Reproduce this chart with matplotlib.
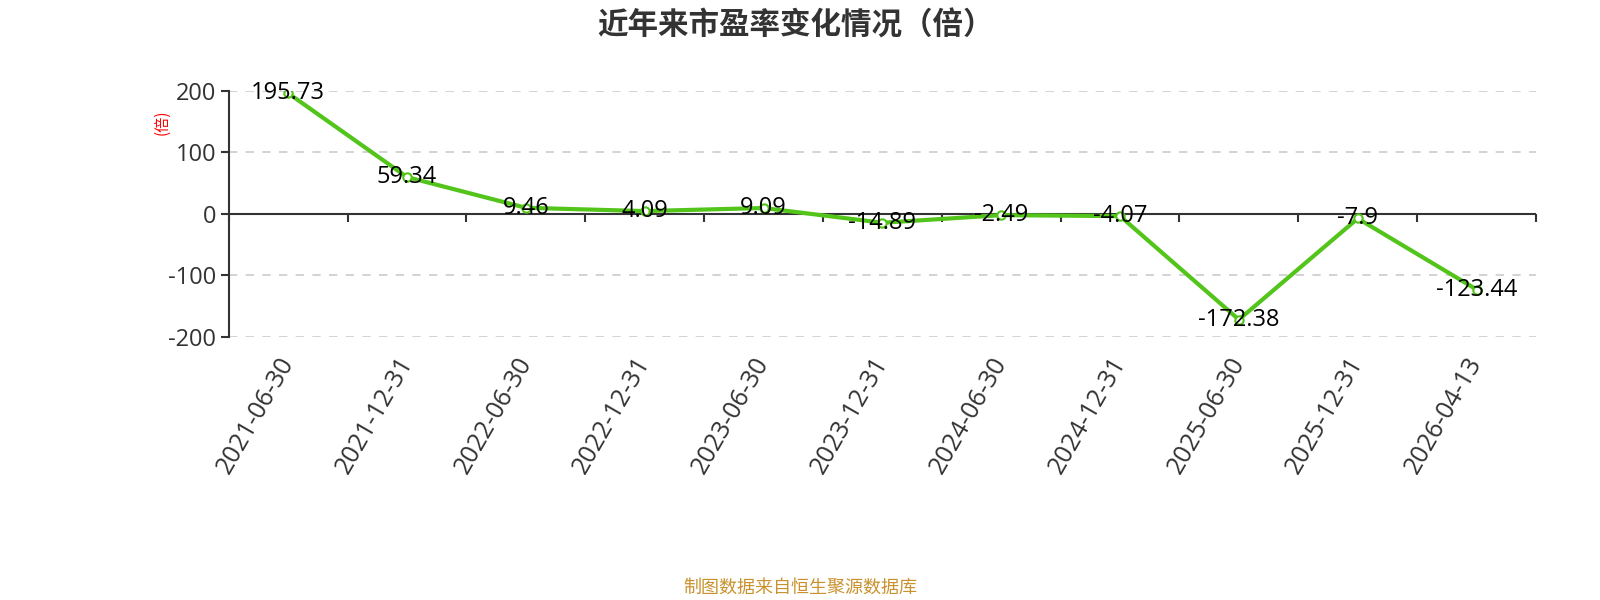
import matplotlib
matplotlib.use("Agg")
import matplotlib.pyplot as plt
import numpy as np

plt.rcParams['font.family'] = ['Open Sans', 'Noto Sans CJK SC', 'DejaVu Sans']
plt.rcParams['axes.unicode_minus'] = False

# 数据
dates = ["2021-06-30", "2021-12-31", "2022-06-30", "2022-12-31", "2023-06-30",
         "2023-12-31", "2024-06-30", "2024-12-31", "2025-06-30", "2025-12-31",
         "2026-04-13"]
pe = [195.73, 59.34, 9.46, 4.09, 9.09, -14.89, -2.49, -4.07, -172.38, -7.9, -123.44]
yticks = [-200, -100, 0, 100, 200]

cjk = ['Noto Sans CJK SC', 'DejaVu Sans']

fig = plt.figure(figsize=(16, 6), dpi=100)
ax = fig.add_axes([0.143, 0.439, 0.817, 0.410])

x = np.arange(len(dates))
ax.set_xlim(-0.5, len(dates) - 0.5)
ax.set_ylim(-200, 200)

# 网格线
for v in yticks:
    if v != 0:
        ax.axhline(v, color='#cccccc', lw=1.2, ls=(0, (5, 5)), zorder=1)
# 零线
ax.axhline(0, color='#333333', lw=1.5, zorder=2)

ax.plot(x, pe, color='#52c41a', lw=3, marker='o', markersize=6,
        markerfacecolor='white', markeredgecolor='#52c41a', markeredgewidth=1.5, zorder=3)

for xi, v in zip(x, pe):
    ax.text(xi, v, f"{v:g}", ha='center', va='center', fontsize=17, color='black', zorder=4)

# 坐标轴样式
for s in ['top', 'right', 'bottom']:
    ax.spines[s].set_visible(False)
ax.spines['left'].set_color('#333333')
ax.spines['left'].set_linewidth(1.5)
ax.set_yticks(yticks)
ax.set_yticklabels([str(v) for v in yticks])
ax.tick_params(axis='y', length=6, width=1.5, color='#333333', labelsize=17, labelcolor='#333333', pad=3)

ax.set_xticks(x)
ax.set_xticklabels(dates, rotation=60, ha='right', va='center', rotation_mode='anchor')
ax.tick_params(axis='x', length=0, labelsize=18, labelcolor='#333333', pad=16)

# 类目轴刻度（在零线上）
sec = ax.secondary_xaxis(0.5)
sec.xaxis.set_ticks_position('bottom')
sec.set_xticks(np.arange(len(dates) + 1) - 0.5)
sec.set_xticklabels([])
sec.tick_params(axis='x', direction='out', length=6, width=1.5, color='#333333')
for s in sec.spines.values():
    s.set_visible(False)

ax.set_ylabel("(倍)", color='red', fontsize=11, family=cjk)
ax.yaxis.set_label_coords(-0.045, 0.87)

fig.text(0.4975, 0.958, "近年来市盈率变化情况（倍）", ha='center', va='center',
         fontsize=22, fontweight='bold', color='#333333', family=cjk)
fig.text(0.5, 0.02, "制图数据来自恒生聚源数据库", ha='center', va='center',
         fontsize=13, color='#c9922e', family=cjk)

fig.savefig("out.png", dpi=100)
